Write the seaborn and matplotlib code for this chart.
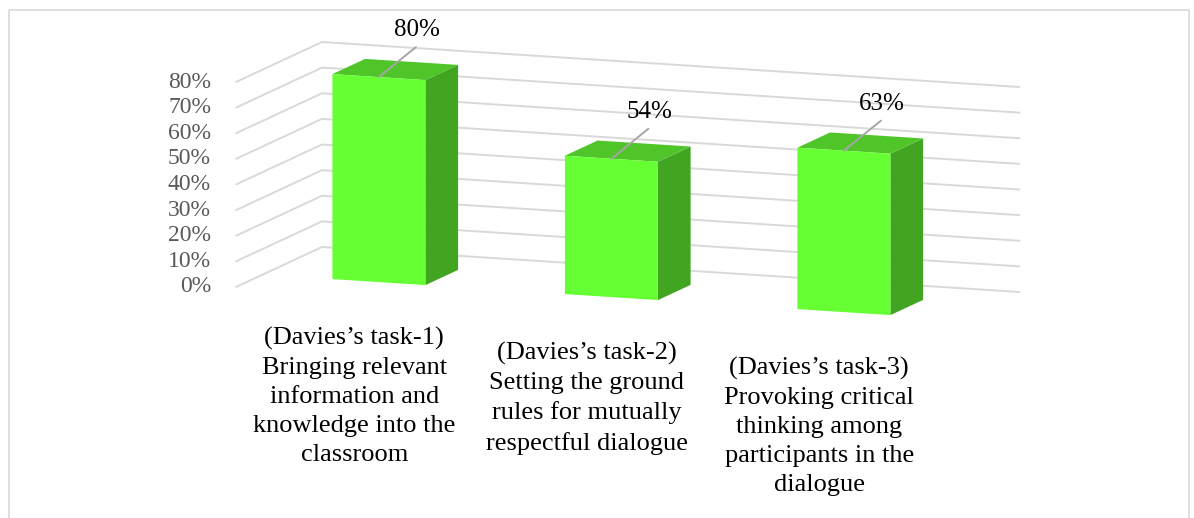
import numpy as np
import matplotlib
matplotlib.use("Agg")
import matplotlib.pyplot as plt
import matplotlib.transforms as mtransforms
from matplotlib.patches import Polygon, Rectangle
import seaborn as sns

# %%
categories = [
    "(Davies’s task-1)\nBringing relevant\ninformation and\nknowledge into the\nclassroom",
    "(Davies’s task-2)\nSetting the ground\nrules for mutually\nrespectful dialogue",
    "(Davies’s task-3)\nProvoking critical\nthinking among\nparticipants in the\ndialogue",
]
values = [0.80, 0.54, 0.63]
value_labels = ["80%", "54%", "63%"]
ticks = [0.0, 0.1, 0.2, 0.3, 0.4, 0.5, 0.6, 0.7, 0.8]
tick_labels = ["0%", "10%", "20%", "30%", "40%", "50%", "60%", "70%", "80%"]

# %%
sns.set_theme(style="white")
plt.rcParams["font.family"] = ["Liberation Serif", "DejaVu Serif"]

W, H = 1194, 518
fig = plt.figure(figsize=(W / 100, H / 100), dpi=100)
ax = fig.add_axes([0, 0, 1, 1])

# simple oblique projection of the 3d box, in pixel space (y down)
ORIGIN = np.array([236.0, 287.0])   # front-left corner of the floor
STEP_X = np.array([232.5, 15.0])    # one category to the right
STEP_Z = np.array([86.0, -40.0])    # full depth of the floor
UNIT_V = 256.25                     # pixels for 100 %
Z_FRONT, Z_BACK = 0.31, 0.69
BAR_W = 0.4

FRONT_C = "#66FF33"
TOP_C = "#4FC52A"
SIDE_C = "#41A522"
GRID_C = "#D9D9D9"


def proj(c, v, z):
    # c is seaborn's category position (bars centred on 0, 1, 2)
    x = ORIGIN[0] + (c + 0.5) * STEP_X[0] + z * STEP_Z[0]
    y = ORIGIN[1] + (c + 0.5) * STEP_X[1] + z * STEP_Z[1] - v * UNIT_V
    return x, y


# walls: gridlines on the left wall and the back wall
n = len(values)
for t in ticks:
    x0, y0 = proj(-0.5, t, 0)
    x1, y1 = proj(-0.5, t, 1)
    x2, y2 = proj(n - 0.5, t, 1)
    ax.plot([x0, x1, x2], [y0, y1, y2], color=GRID_C, lw=1.4, zorder=1,
            solid_joinstyle="miter")

for t, lab in zip(ticks, tick_labels):
    x0, y0 = proj(-0.5, t, 0)
    ax.text(x0 - 25, y0, lab, ha="right", va="center", fontsize=17, color="#595959")

# front faces with seaborn, then mapped into the oblique view
sns.barplot(x=categories, y=values, width=BAR_W, color=FRONT_C, saturation=1,
            linewidth=0, ax=ax, zorder=3)
front = mtransforms.Affine2D.from_values(
    STEP_X[0], STEP_X[1], 0, -UNIT_V,
    ORIGIN[0] + 0.5 * STEP_X[0] + Z_FRONT * STEP_Z[0],
    ORIGIN[1] + 0.5 * STEP_X[1] + Z_FRONT * STEP_Z[1],
)
for p in ax.patches:
    p.set_transform(front + ax.transData)

bars = list(ax.patches)
for p, lab in zip(bars, value_labels):
    x0, w, h = p.get_x(), p.get_width(), p.get_height()
    side = [proj(x0 + w, 0, Z_FRONT), proj(x0 + w, h, Z_FRONT),
            proj(x0 + w, h, Z_BACK), proj(x0 + w, 0, Z_BACK)]
    top = [proj(x0, h, Z_FRONT), proj(x0 + w, h, Z_FRONT),
           proj(x0 + w, h, Z_BACK), proj(x0, h, Z_BACK)]
    ax.add_patch(Polygon(side, closed=True, fc=SIDE_C, ec="none", zorder=2))
    ax.add_patch(Polygon(top, closed=True, fc=TOP_C, ec="none", zorder=2))

    # data label with leader line
    cx, cy = proj(x0 + w / 2, h, Z_FRONT)
    ax.plot([cx, cx + 37], [cy, cy - 30], color="#A6A6A6", lw=1.4, zorder=4)
    ax.text(cx + 38, cy - 47, lab, ha="center", va="center", fontsize=18, color="black")

# category labels under the floor front edge
for i, lab in enumerate(categories):
    x0, y0 = proj(i, 0, 0)
    ax.text(x0 + 2, y0 + 32, lab, ha="center", va="top", fontsize=19, color="black",
            linespacing=1.42)

# chart area border
ax.add_patch(Rectangle((8.5, 9.5), 1180.5, 600, fill=False, ec=GRID_C, lw=1.2))

ax.set_xlim(0, W)
ax.set_ylim(H, 0)
ax.axis("off")

fig.savefig("out.png", dpi=100)
